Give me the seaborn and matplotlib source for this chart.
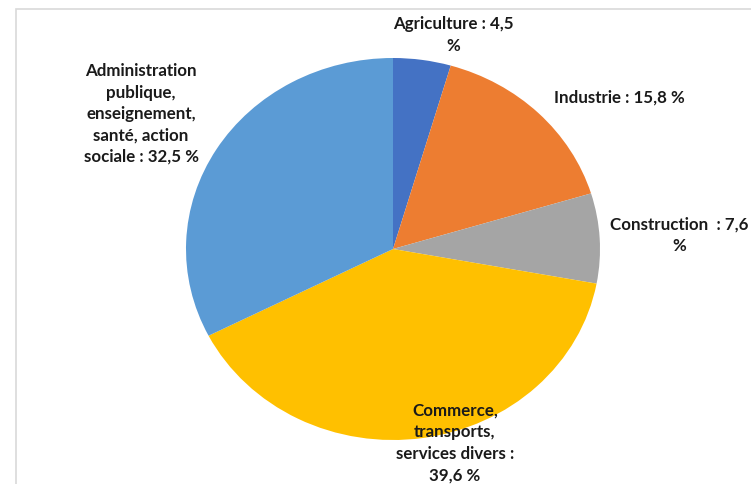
import matplotlib
matplotlib.use('Agg')
import matplotlib.pyplot as plt
from matplotlib.patches import Rectangle
import seaborn as sns

# Data
sectors = ['Agriculture', 'Industrie', 'Construction',
           'Commerce, transports, services divers',
           'Administration publique, enseignement, santé, action sociale']
shares = [4.5, 15.8, 7.6, 39.6, 32.5]
labels = ['Agriculture : 4,5\n%',
          'Industrie : 15,8 %',
          'Construction  : 7,6\n%',
          'Commerce,\ntransports,\nservices divers :\n39,6 %',
          'Administration\npublique,\nenseignement,\nsanté, action\nsociale : 32,5 %']
colors = ['#4472C4', '#ED7D31', '#A5A5A5', '#FFC000', '#5B9BD5']

# label centres in pixels (x, y from top)
label_pos = [(453, 35), (619, 98), (679, 235), (455, 443), (141, 114)]

W, H = 751, 485
sns.set_theme(style='white')
plt.rcParams['font.family'] = ['Lato', 'DejaVu Sans']

fig = plt.figure(figsize=(W / 100, H / 100), dpi=100)
fig.patch.set_facecolor('white')

# pie bbox in pixels: left 186, top 59, width 414, height 382
ax = fig.add_axes([186 / W, (H - 59 - 382) / H, 414 / W, 382 / H])
ax.pie(shares, colors=colors, startangle=90, counterclock=False,
       wedgeprops=dict(linewidth=0))
ax.set_aspect('auto')
ax.set_xlim(-1, 1)
ax.set_ylim(-1, 1)
ax.axis('off')

for text, (x, y) in zip(labels, label_pos):
    fig.text(x / W, 1 - y / H, text, ha='center', va='center',
             multialignment='center', fontsize=12.2, fontweight='bold',
             color='#1a1a1a', linespacing=1.42)

# chart frame (cut by image edge on the right and bottom)
fig.add_artist(Rectangle((16 / W, -0.1), 1.2, 1.1 - 10 / H,
                         transform=fig.transFigure, fill=False,
                         edgecolor='#d9d9d9', linewidth=1.2))

fig.savefig('out.png', dpi=100)
